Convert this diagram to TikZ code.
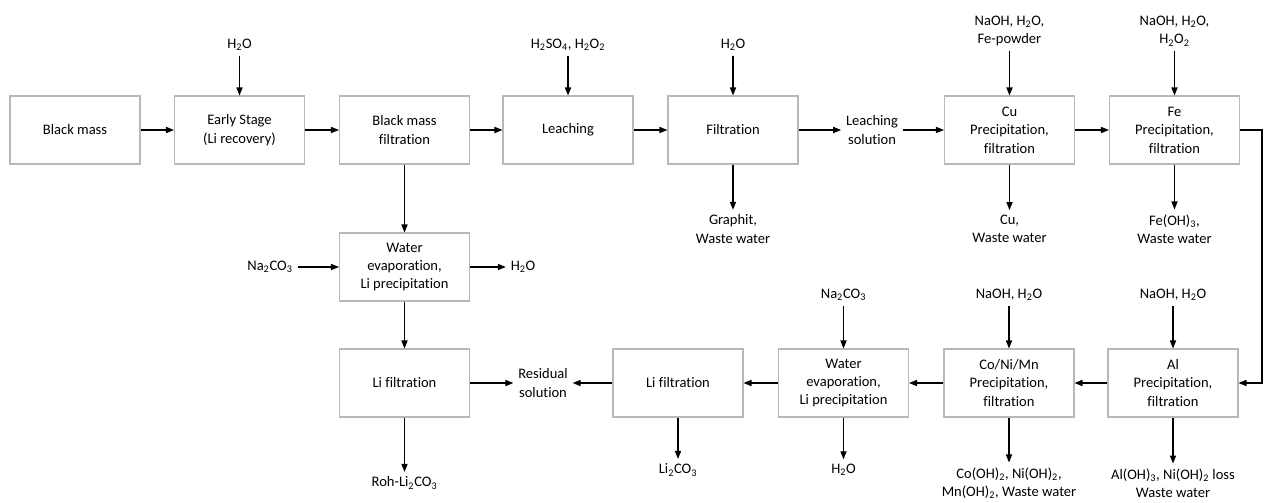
\documentclass[tikz,border=0pt]{standalone}
\usepackage{fontspec}
\setmainfont{Carlito}[RawFeature=-liga]
\usetikzlibrary{arrows.meta,positioning}

\begin{document}
\begin{tikzpicture}[x=0.75pt,y=-0.75pt,
  proc/.style={draw=black!28,line width=0.8pt,fill=white,
               minimum width=97.5pt,minimum height=51pt,align=center,
               font=\fontsize{10.9}{13.8}\selectfont},
  lbl/.style={align=center,inner sep=3.5pt,
               font=\fontsize{10.9}{13.8}\selectfont},
  arr/.style={-{Triangle[length=6pt,width=4.6pt]},line width=0.9pt}]
  \useasboundingbox (0,0) rectangle (1264,503);
  % top row
  \node[proc] (bm) at (75,130) {Black mass};
  \node[proc] (early) at (239.5,130) {Early Stage\\(Li recovery)};
  \node[proc] (bmf) at (404.5,130) {Black mass\\filtration};
  \node[proc] (leach) at (568,130) {Leaching};
  \node[proc] (filt) at (733,130) {Filtration};
  \node[lbl] (sol) at (872,130) {Leaching\\solution};
  \node[proc] (cu) at (1009.5,130) {Cu\\Precipitation,\\filtration};
  \node[proc] (fe) at (1174.5,130) {Fe\\Precipitation,\\filtration};
  \node[lbl] (inE) at (239.5,45) {H\textsubscript{2}O};
  \node[lbl] (inL) at (568,45) {H\textsubscript{2}SO\textsubscript{4}, H\textsubscript{2}O\textsubscript{2}};
  \node[lbl] (inF) at (733,45) {H\textsubscript{2}O};
  \node[lbl] (inCu) at (1009.5,31) {NaOH, H\textsubscript{2}O,\\Fe-powder};
  \node[lbl] (inFe) at (1174.5,31) {NaOH, H\textsubscript{2}O,\\H\textsubscript{2}O\textsubscript{2}};
  \node[lbl] (outF) at (733,229) {Graphit,\\Waste water};
  \node[lbl] (outCu) at (1009.5,229) {Cu,\\Waste water};
  \node[lbl] (outFe) at (1174.5,229) {Fe(OH)\textsubscript{3},\\Waste water};
  % Li branch
  \node[proc] (evapA) at (404.5,267) {Water\\evaporation,\\Li precipitation};
  \node[lbl] (naA) at (270,267) {Na\textsubscript{2}CO\textsubscript{3}};
  \node[lbl] (wA) at (523,267) {H\textsubscript{2}O};
  \node[proc] (lifA) at (404.5,383) {Li filtration};
  \node[lbl] (res) at (543,383) {Residual\\solution};
  \node[lbl] (rohA) at (404.5,483) {Roh-Li\textsubscript{2}CO\textsubscript{3}};
  % bottom row
  \node[proc] (lifB) at (678,383) {Li filtration};
  \node[proc] (evapB) at (843.5,383) {Water\\evaporation,\\Li precipitation};
  \node[proc] (cnm) at (1009,383) {Co/Ni/Mn\\Precipitation,\\filtration};
  \node[proc] (al) at (1173,383) {Al\\Precipitation,\\filtration};
  \node[lbl] (naB) at (843.5,295) {Na\textsubscript{2}CO\textsubscript{3}};
  \node[lbl] (inCnm) at (1009,295) {NaOH, H\textsubscript{2}O};
  \node[lbl] (inAl) at (1173,295) {NaOH, H\textsubscript{2}O};
  \node[lbl] (li2) at (678,470) {Li\textsubscript{2}CO\textsubscript{3}};
  \node[lbl] (wB) at (843.5,470) {H\textsubscript{2}O};
  \node[lbl] (outCnm) at (1009,483) {Co(OH)\textsubscript{2}, Ni(OH)\textsubscript{2},\\Mn(OH)\textsubscript{2}, Waste water};
  \node[lbl] (outAl) at (1173,483) {Al(OH)\textsubscript{3}, Ni(OH)\textsubscript{2} loss\\Waste water};
  \coordinate (turn) at (1262,130);
  % flows
  \draw[arr] (bm) -- (early);
  \draw[arr] (early) -- (bmf);
  \draw[arr] (bmf) -- (leach);
  \draw[arr] (leach) -- (filt);
  \draw[arr] (filt) -- (sol);
  \draw[arr] (sol) -- (cu);
  \draw[arr] (cu) -- (fe);
  \draw[arr] (inE) -- (early);
  \draw[arr] (inL) -- (leach);
  \draw[arr] (inF) -- (filt);
  \draw[arr] (inCu) -- (cu);
  \draw[arr] (inFe) -- (fe);
  \draw[arr] (filt) -- (outF);
  \draw[arr] (cu) -- (outCu);
  \draw[arr] (fe) -- (outFe);
  \draw[arr] (bmf) -- (evapA);
  \draw[arr] (naA) -- (evapA);
  \draw[arr] (evapA) -- (wA);
  \draw[arr] (evapA) -- (lifA);
  \draw[arr] (lifA) -- (res);
  \draw[arr] (lifA) -- (rohA);
  \draw[arr] (fe) -- (fe -| turn) |- (al);
  \draw[arr] (al) -- (cnm);
  \draw[arr] (cnm) -- (evapB);
  \draw[arr] (evapB) -- (lifB);
  \draw[arr] (lifB) -- (res);
  \draw[arr] (naB) -- (evapB);
  \draw[arr] (inCnm) -- (cnm);
  \draw[arr] (inAl) -- (al);
  \draw[arr] (lifB) -- (li2);
  \draw[arr] (evapB) -- (wB);
  \draw[arr] (cnm) -- (outCnm);
  \draw[arr] (al) -- (outAl);
\end{tikzpicture}
\end{document}
